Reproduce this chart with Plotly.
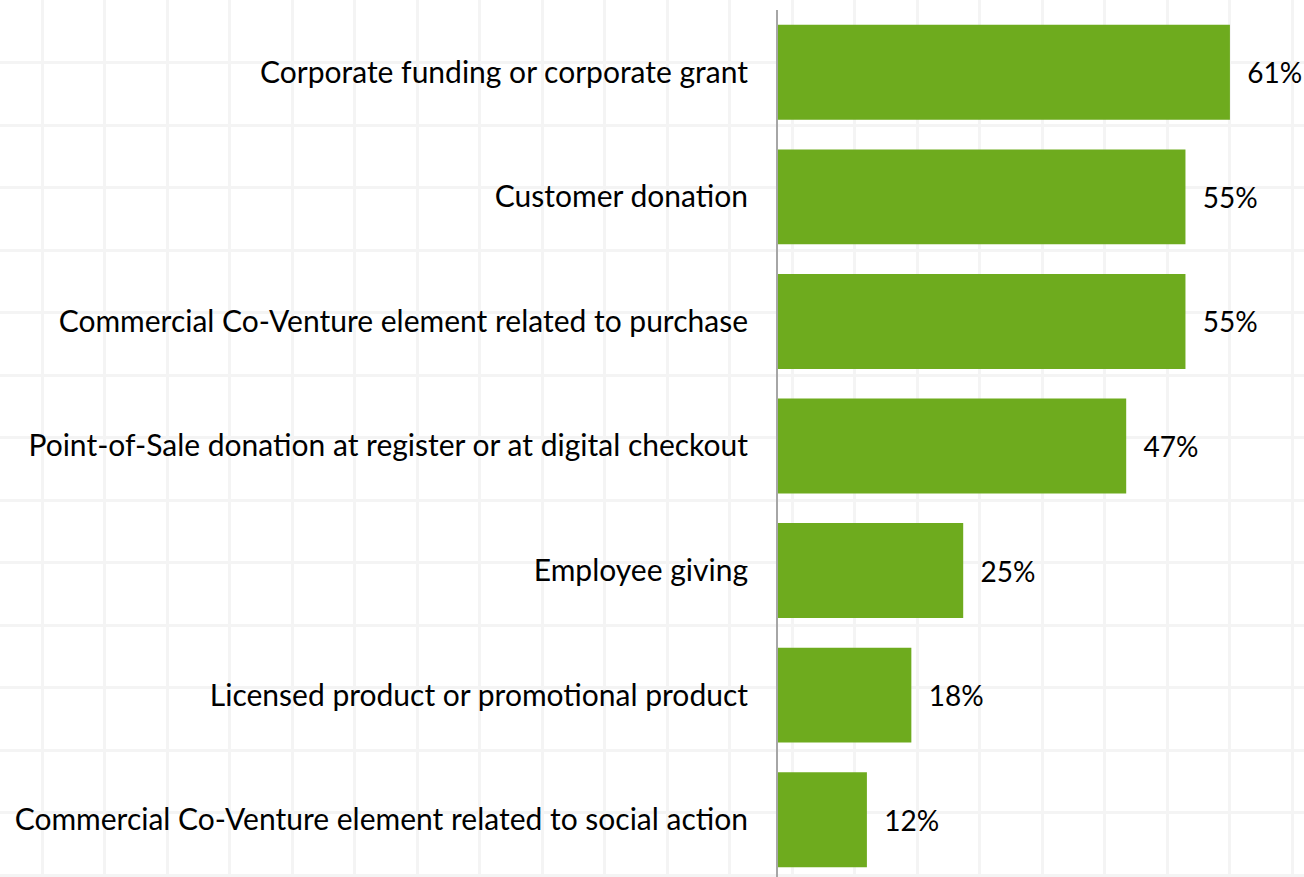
import plotly.graph_objects as go

categories = [
    "Corporate funding or corporate grant",
    "Customer donation",
    "Commercial Co-Venture element related to purchase",
    "Point-of-Sale donation at register or at digital checkout",
    "Employee giving",
    "Licensed product or promotional product",
    "Commercial Co-Venture element related to social action",
]
values = [61, 55, 55, 47, 25, 18, 12]
value_labels = ["61%", "55%", "55%", "47%", "25%", "18%", "12%"]

W, H = 1304, 877
font_family = "Lato, 'Open Sans', sans-serif"

fig = go.Figure()

# faint spreadsheet-like grid behind everything
fig.add_trace(go.Scatter(x=[None], y=[None], xaxis="x", yaxis="y",
                         showlegend=False, hoverinfo="skip"))

fig.add_trace(go.Bar(
    x=values,
    y=categories,
    orientation="h",
    xaxis="x2",
    yaxis="y2",
    marker=dict(color="#6eab1e", line=dict(width=0)),
    text=["\u00a0\u00a0" + t for t in value_labels],
    textposition="outside",
    textfont=dict(family=font_family, size=28, color="black"),
    cliponaxis=False,
    showlegend=False,
))

fig.update_layout(
    width=W,
    height=H,
    margin=dict(l=0, r=0, t=0, b=0),
    paper_bgcolor="white",
    plot_bgcolor="rgba(0,0,0,0)",
    font=dict(family=font_family, size=30, color="black"),
    bargap=0.238,
    xaxis=dict(
        domain=[0, 1], range=[0, W], tick0=42, dtick=62.5,
        showgrid=True, gridcolor="#f4f4f4", gridwidth=3,
        showticklabels=False, zeroline=False, showline=False, fixedrange=True,
    ),
    yaxis=dict(
        domain=[0, 1], range=[H, 0], tick0=0, dtick=62.5,
        showgrid=True, gridcolor="#f4f4f4", gridwidth=3,
        showticklabels=False, zeroline=False, showline=False, fixedrange=True,
    ),
    xaxis2=dict(
        domain=[778 / W, 1], anchor="y2", range=[0, 71],
        showgrid=False, zeroline=False, showline=False, showticklabels=False,
    ),
    yaxis2=dict(
        domain=[0, 1 - 10 / H], anchor="x2", type="category",
        range=[6.46, -0.5],
        showgrid=False, zeroline=False,
        showline=True, linecolor="#a6a6a6", linewidth=2,
        ticks="", ticklabelstandoff=22, automargin=False,
        tickfont=dict(family=font_family, size=30, color="black"),
    ),
)

fig.write_html("out.html", config={"displayModeBar": False},
               post_script="document.body.style.margin='0';")
